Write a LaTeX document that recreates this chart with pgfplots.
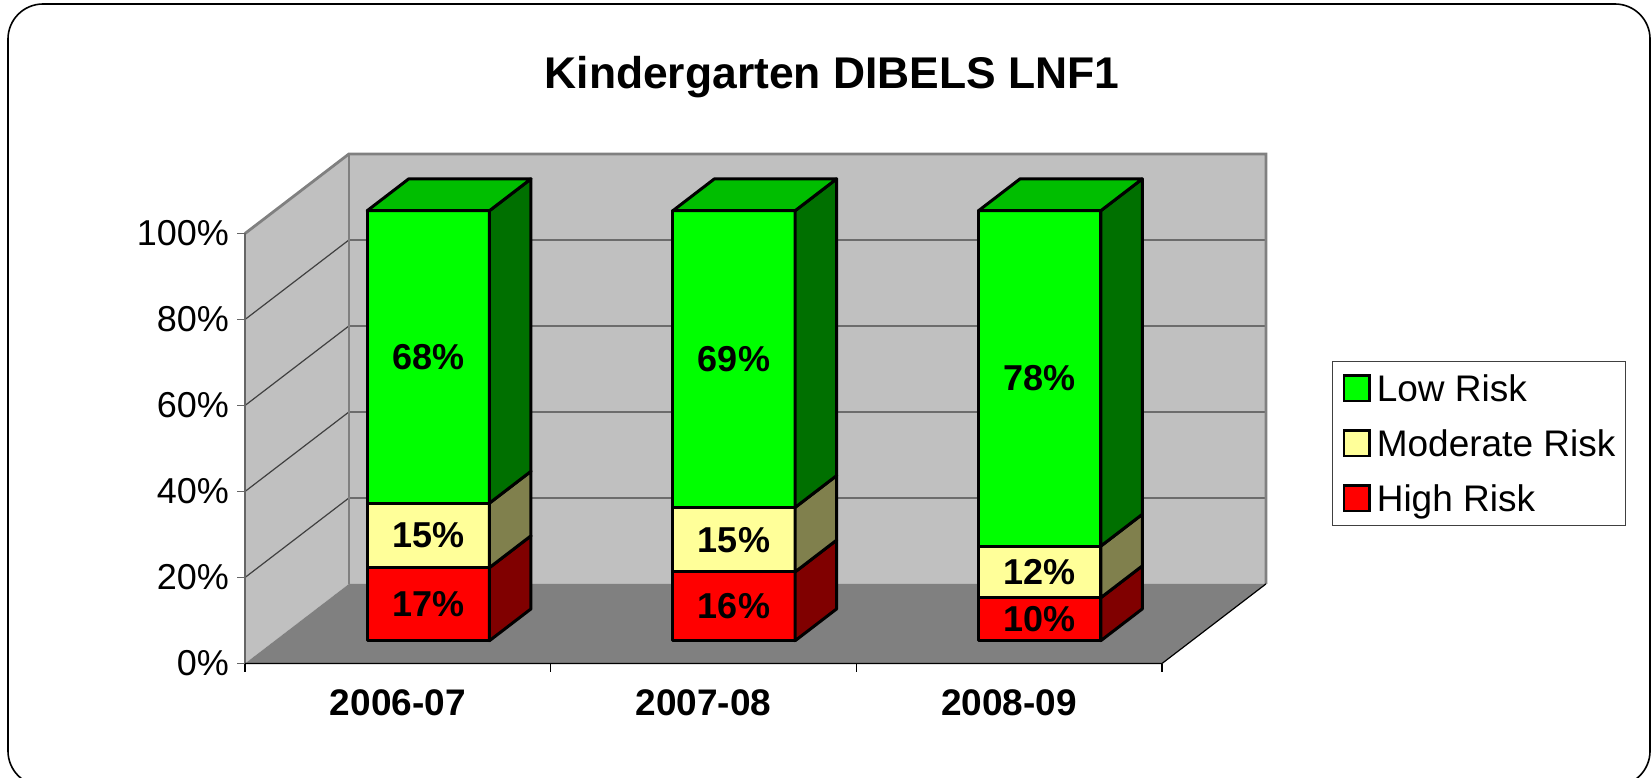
\documentclass[border=0pt]{standalone}
\usepackage{pgfplots}
\pgfplotsset{compat=1.18}
\usepackage{fontspec}
\setmainfont{Liberation Sans}
\definecolor{wallc}{RGB}{192,192,192}
\definecolor{floorc}{RGB}{128,128,128}
\definecolor{edgec}{RGB}{128,128,128}
\definecolor{grnF}{RGB}{0,255,0}
\definecolor{grnT}{RGB}{0,190,0}
\definecolor{grnS}{RGB}{0,112,0}
\definecolor{ylwF}{RGB}{255,255,153}
\definecolor{ylwS}{RGB}{128,128,77}
\definecolor{redF}{RGB}{255,0,0}
\definecolor{redS}{RGB}{128,0,0}
\begin{document}
\begin{tikzpicture}
\path[use as bounding box] (0pt,0pt) rectangle (826pt,388.5pt);
\draw[line width=0.8pt, rounded corners=17.5pt] (4pt,-4.5pt) rectangle (825pt,386.5pt);
\node[anchor=base] at (416pt,344.3pt) {\bfseries\fontsize{22.2}{22.2}\selectfont Kindergarten DIBELS LNF1};

% ---------- walls, floor, grid, ticks ----------
\begin{axis}[
  at={(122.5pt,56.75pt)}, anchor=south west,
  width=458.5pt, height=215pt, scale only axis,
  xmin=0, xmax=3, ymin=0, ymax=100,
  clip=false,
  axis x line*=bottom, axis y line*=left, axis line style={draw=none},
  xtick={0.5,1.5,2.5}, xticklabels={2006-07,2007-08,2008-09},
  minor xtick={0,1,2,3},
  major x tick style={draw=none},
  minor x tick style={black, line width=0.6pt},
  y tick style={black!60, line width=0.9pt},
  ytick={0,20,40,60,80,100},
  yticklabels={0\%,20\%,40\%,60\%,80\%,100\%},
  tick align=outside, major tick length=4pt, minor tick length=4pt,
  xticklabel style={font=\bfseries\fontsize{18.5}{18.5}\selectfont, inner sep=0pt, yshift=-9pt},
  yticklabel style={font=\fontsize{18}{18}\selectfont, inner sep=0pt, xshift=-3.8pt},
]
% back wall
\addplot[fill=wallc, draw=none] coordinates {(0.34,18.5) (3.34,18.5) (3.34,118.5) (0.34,118.5)} -- cycle;
% left wall
\addplot[fill=wallc, draw=none] coordinates {(0,0) (0.34,18.5) (0.34,118.5) (0,100)} -- cycle;
% floor
\addplot[fill=floorc, draw=none] coordinates {(0,0) (3,0) (3.34,18.5) (0.34,18.5)} -- cycle;
% gridlines
\addplot[black!75, line width=0.6pt] coordinates {(0,20) (0.34,38.5) (3.34,38.5)};
\addplot[black!75, line width=0.6pt] coordinates {(0,40) (0.34,58.5) (3.34,58.5)};
\addplot[black!75, line width=0.6pt] coordinates {(0,60) (0.34,78.5) (3.34,78.5)};
\addplot[black!75, line width=0.6pt] coordinates {(0,80) (0.34,98.5) (3.34,98.5)};
% wall edges
\addplot[edgec, line width=1.4pt] coordinates {(0,100) (0.34,118.5) (3.34,118.5) (3.34,18.5)};
\addplot[edgec, line width=1.3pt] coordinates {(0.34,18.5) (0.34,118.5)};
\addplot[black!60, line width=1pt] coordinates {(0,0) (0,100)};
% floor edges
\addplot[black, line width=0.6pt] coordinates {(0,0) (3,0) (3.34,18.5)};
\end{axis}

% ---------- bars ----------
\begin{axis}[
  at={(137.75pt,68.15pt)}, anchor=south west,
  width=458.5pt, height=215pt, scale only axis,
  xmin=0, xmax=3, ymin=0, ymax=100,
  clip=false, hide axis,
  legend cell align=left,
  legend image code/.code={\draw[#1, line width=1.3pt] (0pt,-6.4pt) rectangle (12.8pt,6.4pt);},
  legend style={at={(1.1521,0.6512)}, anchor=north west, draw=black!75, line width=0.6pt,
    fill=white, font=\fontsize{18.5}{18.5}\selectfont, row sep=10.5pt, column sep=3pt,
    inner xsep=5pt, inner ysep=5pt,
    nodes={inner sep=0pt, text height=15pt, text depth=2pt}},
  bars/.style={draw=black, line width=1.5pt, line join=round, forget plot},
]
\addlegendimage{fill=grnF, draw=black}\addlegendentry{Low Risk}
\addlegendimage{fill=ylwF, draw=black}\addlegendentry{Moderate Risk}
\addlegendimage{fill=redF, draw=black}\addlegendentry{High Risk}

% Bar 2006-07: 17, 15, 68
\addplot[bars, fill=redF] coordinates {(0.3,0) (0.7,0) (0.7,17) (0.3,17)} -- cycle;
\addplot[bars, fill=ylwF] coordinates {(0.3,17) (0.7,17) (0.7,32) (0.3,32)} -- cycle;
\addplot[bars, fill=grnF] coordinates {(0.3,32) (0.7,32) (0.7,100) (0.3,100)} -- cycle;
\addplot[bars, fill=redS] coordinates {(0.7,0) (0.8358,7.4) (0.8358,24.4) (0.7,17)} -- cycle;
\addplot[bars, fill=ylwS] coordinates {(0.7,17) (0.8358,24.4) (0.8358,39.4) (0.7,32)} -- cycle;
\addplot[bars, fill=grnS] coordinates {(0.7,32) (0.8358,39.4) (0.8358,107.4) (0.7,100)} -- cycle;
\addplot[bars, fill=grnT] coordinates {(0.3,100) (0.7,100) (0.8358,107.4) (0.4358,107.4)} -- cycle;

% Bar 2007-08: 16, 15, 69
\addplot[bars, fill=redF] coordinates {(1.3,0) (1.7,0) (1.7,16) (1.3,16)} -- cycle;
\addplot[bars, fill=ylwF] coordinates {(1.3,16) (1.7,16) (1.7,31) (1.3,31)} -- cycle;
\addplot[bars, fill=grnF] coordinates {(1.3,31) (1.7,31) (1.7,100) (1.3,100)} -- cycle;
\addplot[bars, fill=redS] coordinates {(1.7,0) (1.8358,7.4) (1.8358,23.4) (1.7,16)} -- cycle;
\addplot[bars, fill=ylwS] coordinates {(1.7,16) (1.8358,23.4) (1.8358,38.4) (1.7,31)} -- cycle;
\addplot[bars, fill=grnS] coordinates {(1.7,31) (1.8358,38.4) (1.8358,107.4) (1.7,100)} -- cycle;
\addplot[bars, fill=grnT] coordinates {(1.3,100) (1.7,100) (1.8358,107.4) (1.4358,107.4)} -- cycle;

% Bar 2008-09: 10, 12, 78
\addplot[bars, fill=redF] coordinates {(2.3,0) (2.7,0) (2.7,10) (2.3,10)} -- cycle;
\addplot[bars, fill=ylwF] coordinates {(2.3,10) (2.7,10) (2.7,22) (2.3,22)} -- cycle;
\addplot[bars, fill=grnF] coordinates {(2.3,22) (2.7,22) (2.7,100) (2.3,100)} -- cycle;
\addplot[bars, fill=redS] coordinates {(2.7,0) (2.8358,7.4) (2.8358,17.4) (2.7,10)} -- cycle;
\addplot[bars, fill=ylwS] coordinates {(2.7,10) (2.8358,17.4) (2.8358,29.4) (2.7,22)} -- cycle;
\addplot[bars, fill=grnS] coordinates {(2.7,22) (2.8358,29.4) (2.8358,107.4) (2.7,100)} -- cycle;
\addplot[bars, fill=grnT] coordinates {(2.3,100) (2.7,100) (2.8358,107.4) (2.4358,107.4)} -- cycle;

% value labels (centred in each segment)
\addplot[draw=none, mark=none, forget plot, point meta=explicit symbolic,
  nodes near coords, nodes near coords style={anchor=center, inner sep=0pt,
  font=\bfseries\fontsize{18}{18}\selectfont}]
  coordinates {(0.5,8.5)[17\%] (0.5,24.5)[15\%] (0.5,66)[68\%]
               (1.5,8)[16\%] (1.5,23.5)[15\%] (1.5,65.5)[69\%]
               (2.5,5)[10\%] (2.5,16)[12\%] (2.5,61)[78\%]};
\end{axis}
\end{tikzpicture}
\end{document}
